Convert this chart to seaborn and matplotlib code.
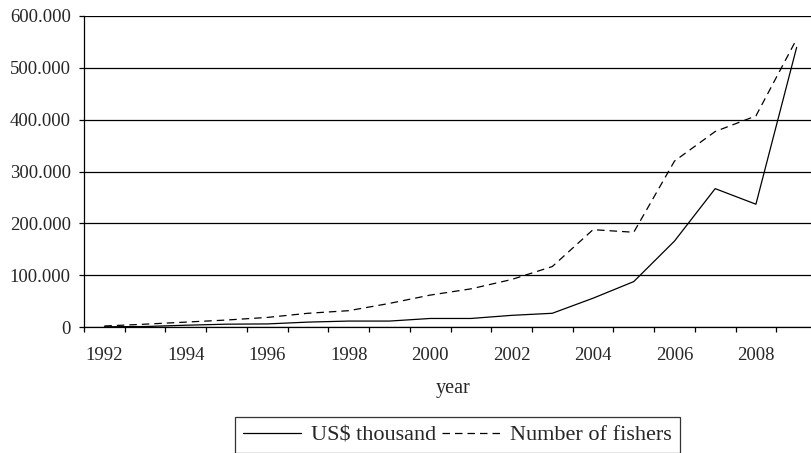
import numpy as np
import pandas as pd
import matplotlib
matplotlib.use("Agg")
import matplotlib.pyplot as plt
import seaborn as sns
from matplotlib.ticker import FuncFormatter, FixedLocator

# Donnees

years = list(range(1992, 2010))
usd_thousand = [1000, 1500, 4000, 6000, 6500, 10000, 12000, 12000, 17000,
                17000, 23000, 27000, 56000, 88000, 166000, 267000, 237000, 539000]
nb_fishers = [2500, 6000, 10000, 14000, 19000, 27000, 32000, 46000, 62000,
              74000, 92000, 117000, 188000, 183000, 320000, 377000, 407000, 555000]

df = pd.DataFrame({"year": years, "usd": usd_thousand, "fishers": nb_fishers})
df["pos"] = np.arange(len(df))

sns.set_style("white")
plt.rcParams['font.family'] = ['Liberation Serif', 'DejaVu Serif']

fig = plt.figure(figsize=(8.11, 4.53), dpi=100)
ax = fig.add_axes([84 / 811, 125.7 / 453, 733 / 811, 311.6 / 453])

sns.lineplot(data=df, x="pos", y="usd", ax=ax, color="black", linewidth=0.9,
             label="US$ thousand")
sns.lineplot(data=df, x="pos", y="fishers", ax=ax, color="black", linewidth=0.9,
             dashes=False, label="Number of fishers")
ax.lines[1].set_dashes([6, 4])

ax.set_xlim(-0.5, len(years) - 0.5)
ax.set_ylim(0, 600000)

# grille horizontale
ax.set_yticks(np.arange(0, 600001, 100000))
ax.yaxis.set_major_formatter(FuncFormatter(lambda v, p: "0" if v == 0 else f"{v:,.0f}".replace(",", ".")))
ax.grid(axis="y", color="black", linewidth=0.9)
ax.set_axisbelow(True)

# axe x a la Excel: traits entre categories, etiquettes une annee sur deux
ax.set_xticks(df["pos"][::2])
ax.set_xticklabels([str(y) for y in years[::2]])
ax.xaxis.set_minor_locator(FixedLocator(np.arange(-0.5, len(years), 1.0)))
ax.tick_params(axis="x", which="major", length=0, pad=14.5, labelsize=13.5)
ax.tick_params(axis="x", which="minor", length=3.6, width=0.9, color="black", direction="out", bottom=True)
ax.tick_params(axis="y", length=3.6, width=0.9, color="black", direction="out", left=True, labelsize=13.5, pad=6)

for s in ["top", "right"]:
    ax.spines[s].set_visible(False)
for s in ["left", "bottom"]:
    ax.spines[s].set_color("black")
    ax.spines[s].set_linewidth(0.9)

ax.set_xlabel("year", fontsize=14.5)
ax.xaxis.set_label_coords(0.503, -0.166)
ax.set_ylabel("")

ax.get_legend().remove()
h, l = ax.get_legend_handles_labels()
leg = fig.legend(h, l, loc="upper left", bbox_to_anchor=(235 / 811, 36 / 453),
                 ncol=2, frameon=True, fancybox=False, fontsize=16,
                 handlelength=2.6, columnspacing=0.3, handletextpad=0.45,
                 borderaxespad=0, borderpad=0.35)
leg.get_frame().set_edgecolor("black")
leg.get_frame().set_linewidth(0.9)

fig.savefig("out.png", dpi=100)
